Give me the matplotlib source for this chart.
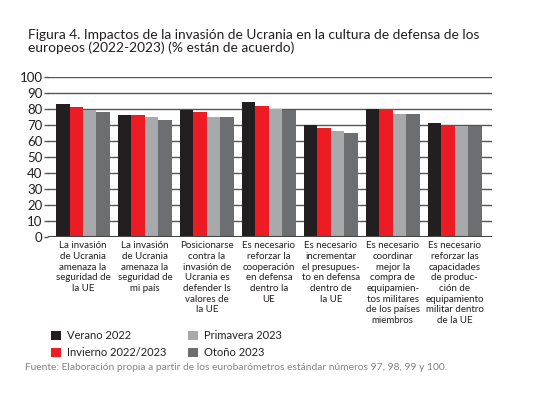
import numpy as np
import matplotlib.pyplot as plt
from matplotlib.patches import Patch
from matplotlib.transforms import blended_transform_factory

plt.rcParams['font.family'] = ['Lato', 'DejaVu Sans']

categories = [
    "La invasión\nde Ucrania\namenaza la\nseguridad de\nla UE",
    "La invasión\nde Ucrania\namenaza la\nseguridad de\nmi país",
    "Posicionarse\ncontra la\ninvasión de\nUcrania es\ndefender ls\nvalores de\nla UE",
    "Es necesario\nreforzar la\ncooperación\nen defensa\ndentro la\nUE",
    "Es necesario\nincrementar\nel presupues-\nto en defensa\ndentro de\nla UE",
    "Es necesario\ncoordinar\nmejor la\ncompra de\nequipamien-\ntos militares\nde los países\nmiembros",
    "Es necesario\nreforzar las\ncapacidades\nde produc-\nción de\nequipamiento\nmilitar dentro\nde la UE",
]
series = ["Verano 2022", "Invierno 2022/2023", "Primavera 2023", "Otoño 2023"]
verano = [83, 76, 79, 84, 70, 80, 71]
invierno = [81, 76, 78, 82, 68, 80, 69]
primavera = [79, 75, 75, 80, 66, 77, 69]
otono = [78, 73, 75, 79, 65, 77, 69]
values = [verano, invierno, primavera, otono]
colors = ["#231f20", "#ed1c24", "#a7a9ac", "#6d6e71"]

fig = plt.figure(figsize=(5.37, 4.08), dpi=100)
ax = fig.add_axes([0.0894, 0.4198, 0.8266, 0.3922])

x = np.arange(len(categories))
bw = 0.2177
for j, (vals, c) in enumerate(zip(values, colors)):
    ax.bar(x + (j - 1.5) * bw, vals, width=bw, color=c, zorder=2)

ax.set_ylim(0, 100)
ax.set_xlim(-0.565, 6.6)
ax.set_yticks(range(0, 101, 10))
ax.yaxis.grid(True, color="#555555", linewidth=1.0, zorder=1)
ax.set_axisbelow(True)
for s in ax.spines.values():
    s.set_visible(False)
ax.tick_params(axis="y", length=3, width=1.0, color="#555555", pad=1,
               labelsize=9.5, labelcolor="#231f20")
ax.tick_params(axis="x", length=0, labelbottom=False)
ax.axhline(0, color="#444444", linewidth=1.5, zorder=3)

tr = blended_transform_factory(ax.transData, fig.transFigure)
for i, lab in enumerate(categories):
    ax.text(x[i], 1 - 241 / 408, lab, transform=tr, ha="center", va="top",
            fontsize=7.0, color="#231f20", linespacing=1.25)

fig.text(28 / 537, 1 - 29 / 408,
         "Figura 4. Impactos de la invasión de Ucrania en la cultura de defensa de los\n"
         "europeos (2022-2023) (% están de acuerdo)",
         ha="left", va="top", fontsize=9.9, color="#231f20", linespacing=1.05)

handles = [Patch(facecolor=c, edgecolor="none") for c in colors]
fig.legend(handles, series, ncol=2, loc="upper left",
           bbox_to_anchor=(41 / 537, 1 - 320 / 408), frameon=False,
           fontsize=8.0, handlelength=0.9, handleheight=0.9,
           handletextpad=0.5, columnspacing=2.0, labelspacing=0.55,
           labelcolor="#231f20")

fig.text(25 / 537, 1 - 368 / 408,
         "Fuente: Elaboración propia a partir de los eurobarómetros estándar números 97, 98, 99 y 100.",
         ha="left", va="center", fontsize=7.4, color="#808285")

fig.savefig("out.png", dpi=100)
